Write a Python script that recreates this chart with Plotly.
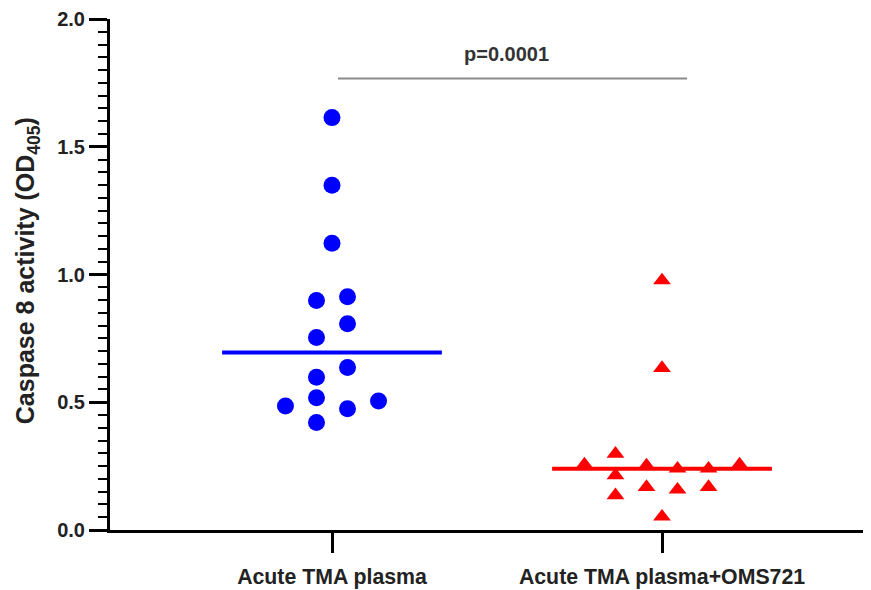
import numpy as np
import plotly.graph_objects as go

# ---- data ----
categories = ["Acute TMA plasma", "Acute TMA plasma+OMS721"]

tma_values = [1.614, 1.349, 1.122, 0.898, 0.913, 0.807, 0.753,
              0.636, 0.598, 0.518, 0.485, 0.505, 0.475, 0.421]
tma_slots = [0, 0, 0, -1, 1, 1, -1, 1, -1, -1, -3, 3, 1, -1]

oms_values = [0.977, 0.634, 0.256, 0.298, 0.214, 0.136, 0.252,
              0.168, 0.240, 0.158, 0.240, 0.168, 0.256, 0.052]
oms_slots = [0, 0, -5, -3, -3, -3, -1, -1, 1, 1, 3, 3, 5, 0]

y_tick_vals = [0.0, 0.5, 1.0, 1.5, 2.0]
y_tick_text = ["0.0", "0.5", "1.0", "1.5", "2.0"]

y_title = "Caspase 8 activity (OD<sub>405</sub>)"
p_label = "p=0.0001"

# ---- styling / layout constants ----
SLOT = 0.047          # horizontal jitter step, in x-axis units
HALF_LINE = 0.333     # half width of median bar
FONT = "Liberation Sans, Arial, sans-serif"
BLUE = "#0000FF"
RED = "#FF0000"

fig = go.Figure()

groups = [
    (0, tma_values, tma_slots, BLUE, "circle", 17),
    (1, oms_values, oms_slots, RED, "triangle-up", 15.5),
]
for xc, vals, slots, col, sym, size in groups:
    xs = [xc + s * SLOT for s in slots]
    fig.add_trace(go.Scatter(
        x=xs, y=vals, mode="markers",
        marker=dict(color=col, symbol=sym, size=size, line=dict(width=0)),
        showlegend=False, hoverinfo="y"))
    med = float(np.median(vals))
    fig.add_trace(go.Scatter(
        x=[xc - HALF_LINE, xc + HALF_LINE], y=[med, med], mode="lines",
        line=dict(color=col, width=4), showlegend=False, hoverinfo="skip"))

# significance bracket
fig.add_trace(go.Scatter(
    x=[0.018, 1.076], y=[1.767, 1.767], mode="lines",
    line=dict(color="#8a8a8a", width=2), showlegend=False, hoverinfo="skip"))
fig.add_annotation(x=0.529, y=1.864, text=p_label, showarrow=False,
                   font=dict(family=FONT, size=20, color="#333333", weight="bold"),
                   xanchor="center", yanchor="middle")

# y-axis title as a rotated annotation (for exact placement)
fig.add_annotation(x=-0.108, y=0.508, xref="paper", yref="paper",
                   text=y_title, textangle=-90, showarrow=False,
                   font=dict(family=FONT, size=25, color="#222222", weight="bold"),
                   xanchor="center", yanchor="middle")

fig.update_layout(
    width=863, height=582,
    margin=dict(l=102, r=0, t=7, b=60),
    paper_bgcolor="white", plot_bgcolor="white",
    font=dict(family=FONT, color="#222222"),
)

fig.update_xaxes(
    range=[-0.6727, 1.6333],
    tickmode="array", tickvals=[0, 1], ticktext=categories,
    ticks="outside", ticklen=20, tickwidth=3, tickcolor="black",
    tickfont=dict(family=FONT, size=21.3, color="#222222", weight="bold"),
    ticklabelstandoff=5,
    showline=True, linecolor="black", linewidth=3,
    showgrid=False, zeroline=False,
)

fig.update_yaxes(
    range=[0, 2],
    tickmode="array", tickvals=y_tick_vals, ticktext=y_tick_text,
    ticks="outside", ticklen=18, tickwidth=3, tickcolor="black",
    tickfont=dict(family=FONT, size=20, color="#222222", weight="bold"),
    ticklabeloverflow="allow",
    minor=dict(dtick=0.05, ticks="outside", ticklen=9, tickwidth=2,
               tickcolor="black", showgrid=False),
    showline=True, linecolor="black", linewidth=3,
    showgrid=False, zeroline=False,
)

fig.write_html("out.html")
